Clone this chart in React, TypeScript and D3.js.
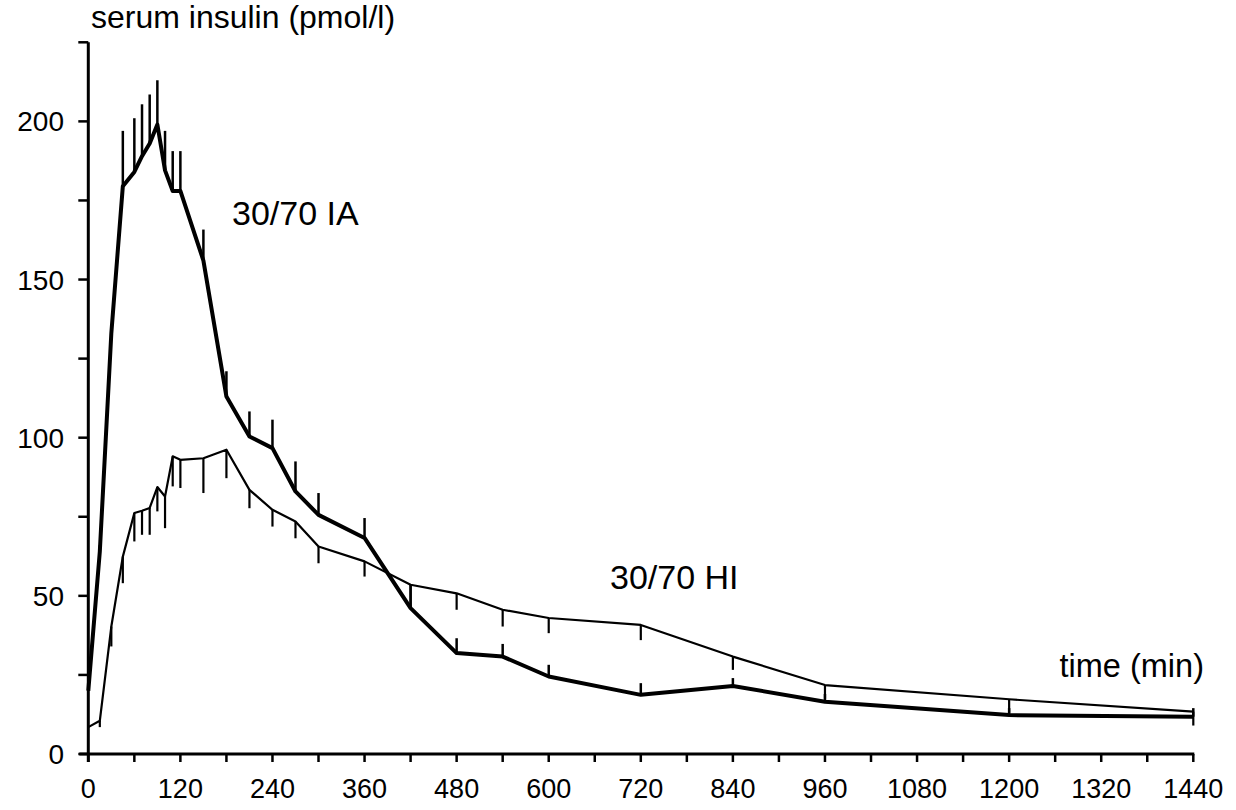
import React from "react";
import * as d3 from "d3";

const times = [0, 15, 30, 45, 60, 70, 80, 90, 100, 110, 120, 150, 180, 210, 240, 270, 300, 360, 420, 480, 540, 600, 720, 840, 960, 1200, 1440];

// 30/70 IA (thick line), error bars pointing up
const iaValues = [20, 64, 133, 179.5, 184, 189, 193, 199, 184.5, 178, 178, 156, 113, 100.4, 96.7, 83, 75.6, 68.3, 46.1, 31.9, 30.8, 24.5, 18.7, 21.5, 16.5, 12.3, 11.8];
const iaUpper = [26, 66, 135, 197, 201, 205.4, 208.5, 213, 197, 190.6, 190.6, 165.8, 121, 108.3, 105.7, 92.5, 82.5, 74.6, 53.5, 36.6, 34.8, 28.2, 22.4, 24, 19, 14.5, 14.5];

// 30/70 HI (thin line), error bars pointing down
const hiValues = [8.5, 10.5, 40.3, 62.4, 76.2, 76.9, 77.8, 84.4, 81.4, 94.1, 93, 93.5, 96.2, 83.5, 77.2, 73.5, 65.6, 60.9, 53.5, 50.8, 45.6, 43, 40.8, 30.8, 21.8, 17.3, 13.4];
const hiLower = [8.5, 8.5, 34, 54, 67.2, 69.3, 69.3, 76.7, 71.4, 84.6, 84.1, 82.5, 87.2, 77.7, 71.9, 68.2, 60.3, 56.1, 46.6, 45.6, 40.3, 38.2, 36, 26.6, 17.5, 13, 9];

const xTicks = d3.range(0, 1441, 60);
const xLabels = d3.range(0, 1441, 120);
const yTicks = d3.range(0, 226, 25);
const yLabels = [0, 50, 100, 150, 200];

const W = 1236;
const H = 810;
const FONT = "'Liberation Sans', Arial, Helvetica, sans-serif";

export default function App() {
  const x = d3.scaleLinear().domain([0, 1440]).range([88.3, 1193.3]);
  const y = d3.scaleLinear().domain([0, 225]).range([754, 42.3]);

  const line = d3
    .line<number>()
    .x((_, i) => x(times[i]))
    .y((v) => y(v));

  return (
    <svg
      width={W}
      height={H}
      viewBox={`0 0 ${W} ${H}`}
      style={{ position: "absolute", left: 0, top: 0, background: "#fff" }}
    >
      <rect x={0} y={0} width={W} height={H} fill="#fff" />
      {/* axes */}
      <line x1={x(0)} x2={x(0)} y1={y(225)} y2={y(0) + 8} stroke="#000" strokeWidth={3} />
      <line x1={x(0) - 9} x2={x(1440) + 1} y1={y(0)} y2={y(0)} stroke="#000" strokeWidth={3} />
      {yTicks.map((t) => (
        <line key={"yt" + t} x1={x(0) - 10} x2={x(0)} y1={y(t)} y2={y(t)} stroke="#000" strokeWidth={2.5} />
      ))}
      {xTicks.map((t) => (
        <line key={"xt" + t} x1={x(t)} x2={x(t)} y1={y(0)} y2={y(0) + 8} stroke="#000" strokeWidth={2.5} />
      ))}
      {yLabels.map((t) => (
        <text
          key={"yl" + t}
          x={64}
          y={y(t)}
          dy="0.36em"
          textAnchor="end"
          fontFamily={FONT}
          fontSize={28}
          fill="#000"
        >
          {t}
        </text>
      ))}
      {xLabels.map((t) => (
        <text
          key={"xl" + t}
          x={x(t)}
          y={798}
          textAnchor="middle"
          fontFamily={FONT}
          fontSize={27}
          fill="#000"
        >
          {t}
        </text>
      ))}
      <text x={91} y={28} fontFamily={FONT} fontSize={32} fill="#000">
        serum insulin (pmol/l)
      </text>
      <text x={1204} y={677} textAnchor="end" fontFamily={FONT} fontSize={32.5} fill="#000">
        time (min)
      </text>

      {/* error bars */}
      {times.map((t, i) =>
        iaUpper[i] > iaValues[i] ? (
          <line key={"ie" + t} x1={x(t)} x2={x(t)} y1={y(iaValues[i])} y2={y(iaUpper[i])} stroke="#000" strokeWidth={2.5} />
        ) : null
      )}
      {times.map((t, i) =>
        hiLower[i] < hiValues[i] ? (
          <line key={"he" + t} x1={x(t)} x2={x(t)} y1={y(hiValues[i])} y2={y(hiLower[i])} stroke="#000" strokeWidth={2.2} />
        ) : null
      )}

      {/* series lines */}
      <path d={line(hiValues) || ""} fill="none" stroke="#000" strokeWidth={2.2} strokeLinejoin="round" />
      <path d={line(iaValues) || ""} fill="none" stroke="#000" strokeWidth={4} strokeLinejoin="round" />

      <text x={232} y={225} fontFamily={FONT} fontSize={34} fill="#000">
        30/70 IA
      </text>
      <text x={610} y={589} fontFamily={FONT} fontSize={34} fill="#000">
        30/70 HI
      </text>
    </svg>
  );
}
